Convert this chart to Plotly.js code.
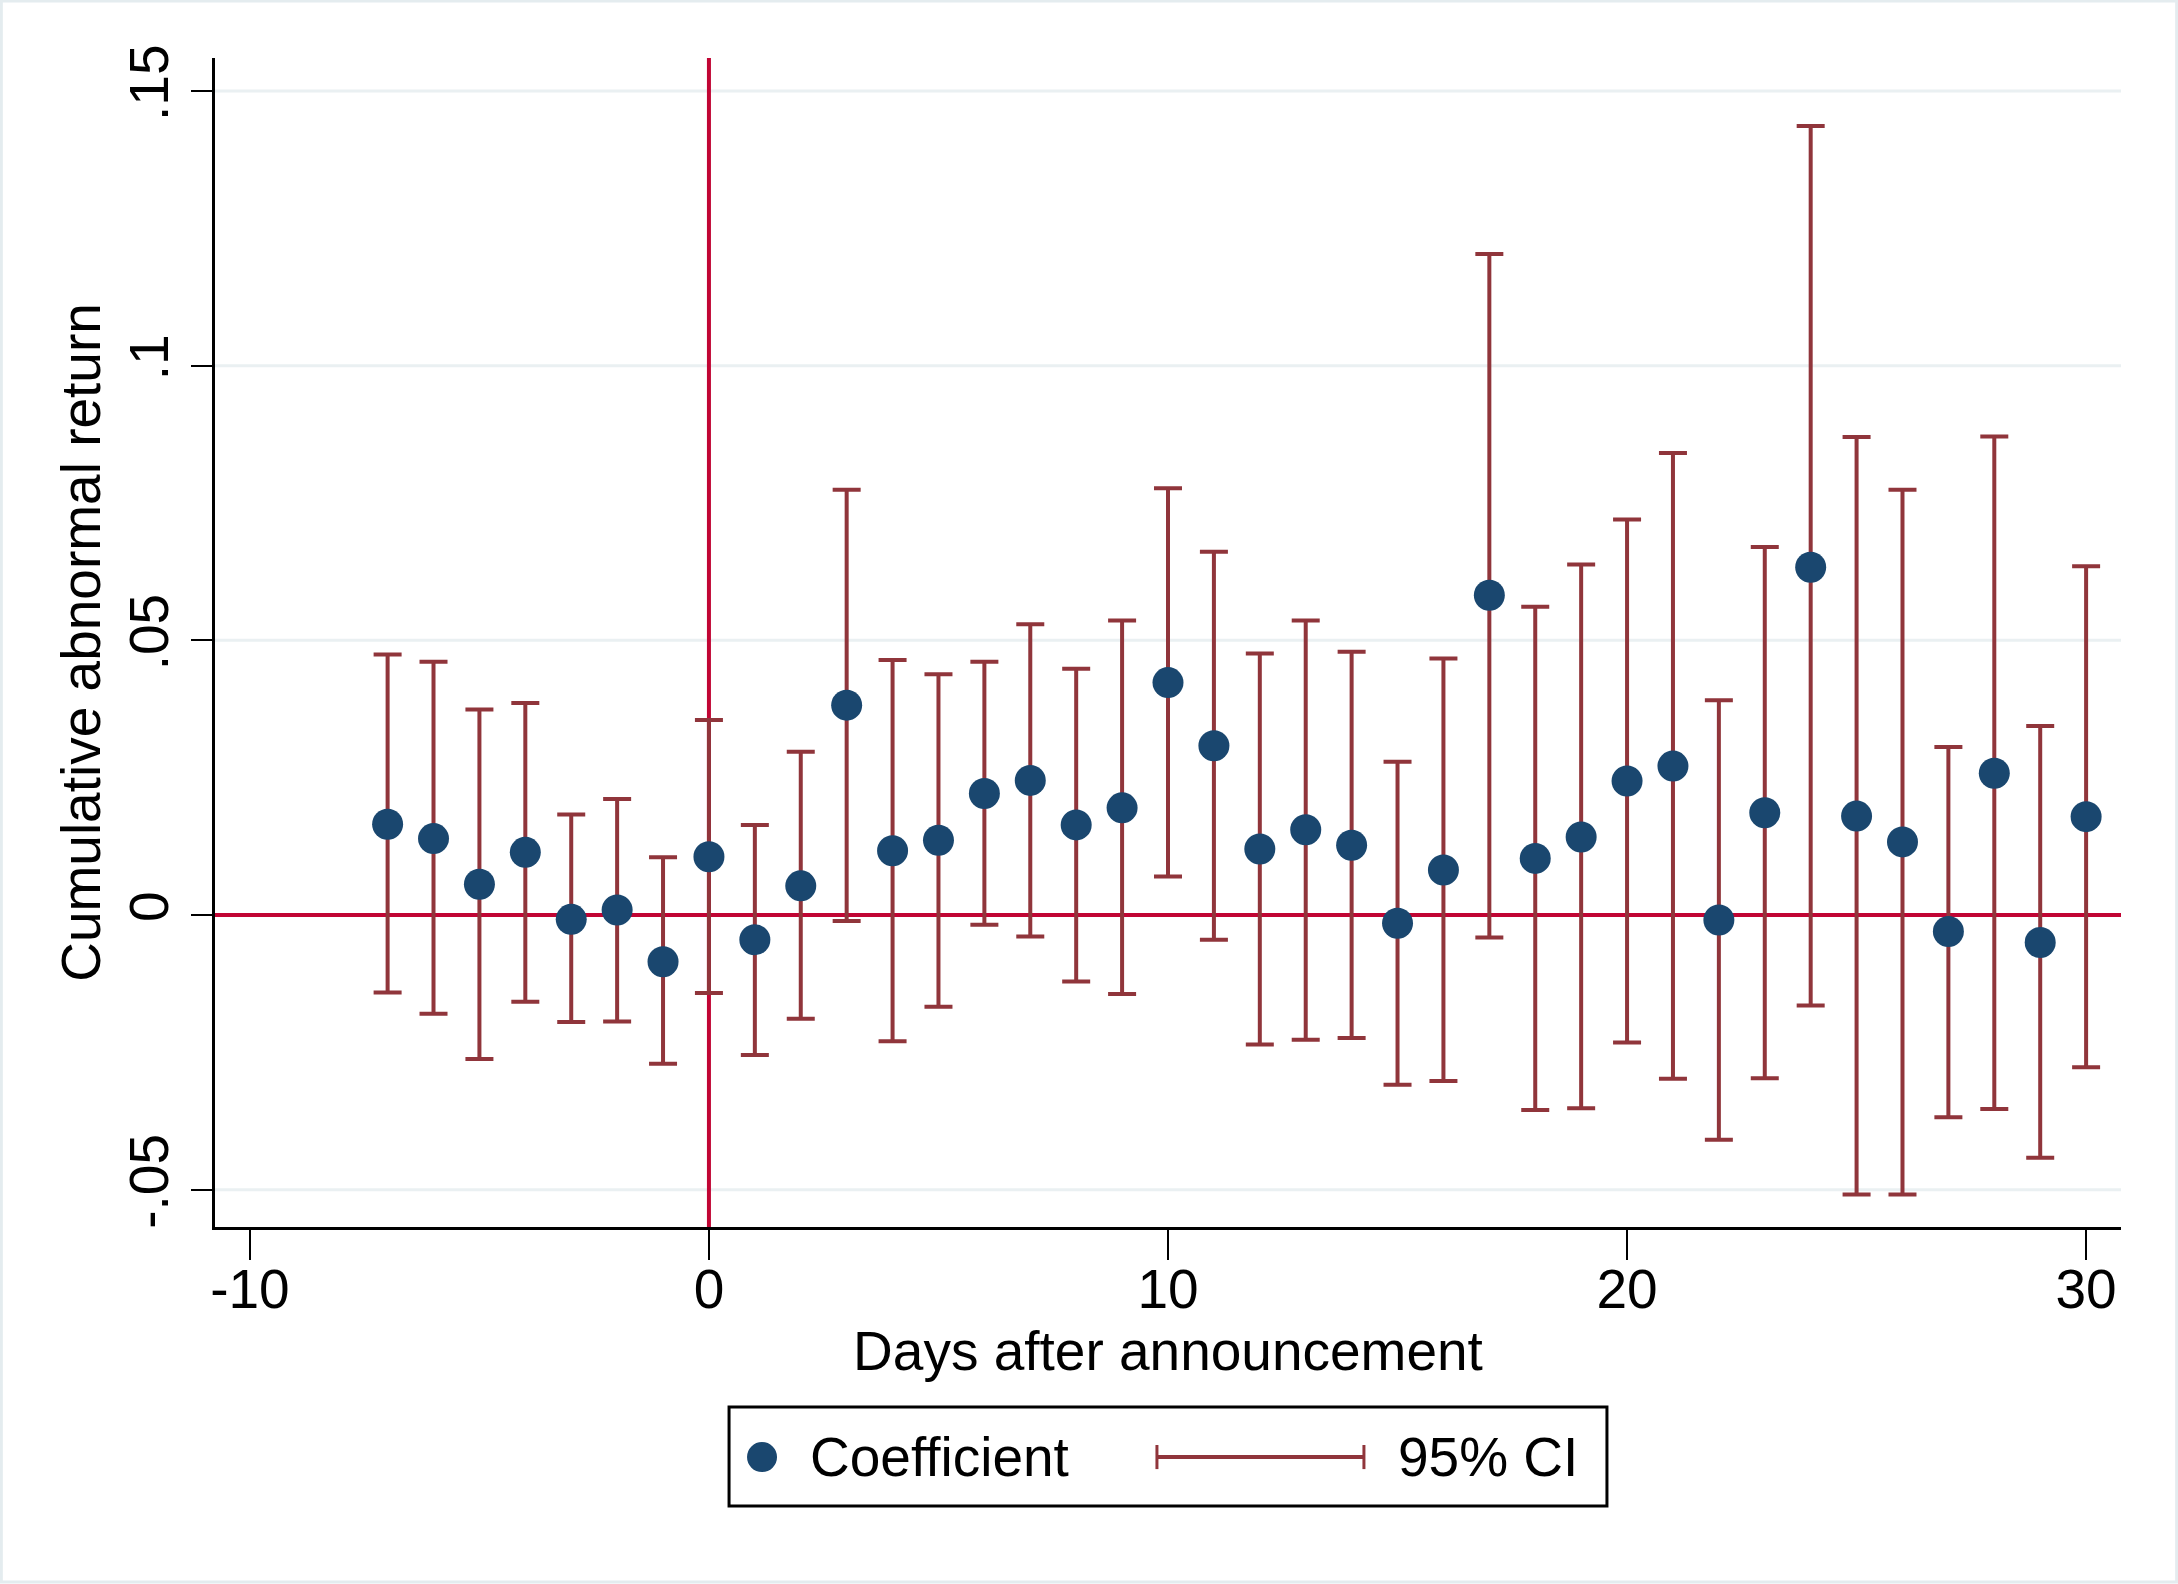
<!DOCTYPE html>
<html>
<head>
<meta charset="utf-8">
<script src="https://cdn.plot.ly/plotly-3.0.1.min.js"></script>
<style>
  html, body { margin: 0; padding: 0; background: #ffffff; }
  #chart { width: 2178px; height: 1584px; }
</style>
</head>
<body>
<div id="chart"></div>
<script>
// event-study estimates
var days = [-7, -6, -5, -4, -3, -2, -1, 0, 1, 2, 3, 4, 5, 6, 7, 8, 9, 10, 11, 12,
            13, 14, 15, 16, 17, 18, 19, 20, 21, 22, 23, 24, 25, 26, 27, 28, 29, 30];

var coef = [0.0165, 0.0139, 0.0056, 0.0114, -0.0008, 0.0009, -0.0085, 0.0106, -0.0045, 0.0053,
            0.0382, 0.0117, 0.0136, 0.0221, 0.0245, 0.0164, 0.0195, 0.0423, 0.0308, 0.0120,
            0.0155, 0.0127, -0.0015, 0.0082, 0.0582, 0.0103, 0.0142, 0.0244, 0.0271, -0.0009,
            0.0186, 0.0633, 0.0180, 0.0133, -0.0030, 0.0258, -0.0050, 0.0179];

var ciUpper = [0.0474, 0.0461, 0.0374, 0.0386, 0.0183, 0.0211, 0.0105, 0.0355, 0.0164, 0.0297,
               0.0774, 0.0464, 0.0438, 0.0461, 0.0529, 0.0448, 0.0536, 0.0777, 0.0661, 0.0476,
               0.0536, 0.0479, 0.0279, 0.0467, 0.1203, 0.0561, 0.0638, 0.0720, 0.0841, 0.0391,
               0.0670, 0.1436, 0.0870, 0.0774, 0.0306, 0.0871, 0.0344, 0.0635];

var ciLower = [-0.0141, -0.0180, -0.0262, -0.0158, -0.0195, -0.0194, -0.0271, -0.0142, -0.0255, -0.0189,
               -0.0011, -0.0230, -0.0167, -0.0018, -0.0039, -0.0121, -0.0144, 0.0070, -0.0045, -0.0236,
               -0.0227, -0.0224, -0.0309, -0.0302, -0.0041, -0.0355, -0.0352, -0.0232, -0.0298, -0.0409,
               -0.0297, -0.0165, -0.0509, -0.0509, -0.0368, -0.0353, -0.0442, -0.0277];

var yTickVals = [-0.05, 0, 0.05, 0.1, 0.15];
var yTickText = ['-.05', '0', '.05', '.1', '.15'];
var xTickVals = [-10, 0, 10, 20, 30];
var xTickText = ['-10', '0', '10', '20', '30'];

var navy = '#1a476f';
var maroon = '#90353b';
var cranberry = '#c10534';

var errPlus = ciUpper.map(function (u, i) { return u - coef[i]; });
var errMinus = ciLower.map(function (l, i) { return coef[i] - l; });

var ciTrace = {
    x: days,
    y: coef,
    mode: 'markers',
    marker: { size: 1, color: 'rgba(0,0,0,0)' },
    error_y: {
        type: 'data',
        symmetric: false,
        array: errPlus,
        arrayminus: errMinus,
        color: maroon,
        thickness: 4,
        width: 14
    },
    hoverinfo: 'skip',
    showlegend: false
};

var coefTrace = {
    x: days,
    y: coef,
    mode: 'markers',
    marker: { size: 31, color: navy },
    showlegend: false
};

var font = 'Liberation Sans, Arial, Helvetica, sans-serif';

// grid drawn as shapes so the red reference lines can sit on top of it
var shapes = yTickVals.map(function (v) {
    return { type: 'line', xref: 'paper', yref: 'y', x0: 0, x1: 1, y0: v, y1: v,
             line: { color: '#eaf0f2', width: 3 }, layer: 'below' };
});

shapes.push(
    { type: 'line', xref: 'x', yref: 'paper', x0: 0, x1: 0, y0: 0, y1: 1,
      line: { color: cranberry, width: 4 }, layer: 'below' },
    { type: 'line', xref: 'paper', yref: 'y', x0: 0, x1: 1, y0: 0, y1: 0,
      line: { color: cranberry, width: 4 }, layer: 'below' }
);

// legend drawn by hand so the CI key can show its end caps
var legY = -0.1968;
shapes.push(
    { type: 'rect', xref: 'paper', yref: 'paper', x0: 0.2697, x1: 0.7303, y0: -0.2387, y1: -0.154,
      line: { color: '#000000', width: 3 }, fillcolor: '#ffffff' },
    { type: 'circle', xref: 'paper', yref: 'paper', xsizemode: 'pixel', ysizemode: 'pixel',
      xanchor: 0.287, yanchor: legY, x0: -15, x1: 15, y0: -15, y1: 15,
      fillcolor: navy, line: { width: 0 } },
    { type: 'line', xref: 'paper', yref: 'paper', x0: 0.4942, x1: 0.6028, y0: legY, y1: legY,
      line: { color: maroon, width: 4 } },
    { type: 'line', xref: 'paper', yref: 'paper', x0: 0.4942, x1: 0.4942, y0: legY - 0.0103, y1: legY + 0.0103,
      line: { color: maroon, width: 3 } },
    { type: 'line', xref: 'paper', yref: 'paper', x0: 0.6028, x1: 0.6028, y0: legY - 0.0103, y1: legY + 0.0103,
      line: { color: maroon, width: 3 } },
    { type: 'rect', xref: 'paper', yref: 'paper', x0: -0.1121, x1: 1.0292, y0: -0.3036, y1: 1.0488,
      line: { color: '#e4ecef', width: 3 } }
);

var annotations = [
    { xref: 'paper', yref: 'paper', x: 0.3111, y: legY, xanchor: 'left', yanchor: 'middle',
      text: 'Coefficient', showarrow: false, font: { family: font, size: 55, color: '#000000' } },
    { xref: 'paper', yref: 'paper', x: 0.6196, y: legY, xanchor: 'left', yanchor: 'middle',
      text: '95% CI', showarrow: false, font: { family: font, size: 55, color: '#000000' } }
];

var layout = {
    width: 2178,
    height: 1584,
    margin: { l: 215, r: 57, t: 58, b: 357 },
    paper_bgcolor: '#ffffff',
    plot_bgcolor: '#ffffff',
    font: { family: font, size: 55, color: '#000000' },
    showlegend: false,
    xaxis: {
        range: [-10.76, 30.76],
        tickvals: xTickVals,
        ticktext: xTickText,
        ticks: 'outside',
        ticklen: 30,
        tickwidth: 2,
        tickcolor: '#000000',
        showgrid: false,
        zeroline: false,
        showline: true,
        linecolor: '#000000',
        linewidth: 3,
        ticklabelstandoff: -18,
        tickfont: { family: font, size: 55 },
        title: { text: 'Days after announcement', font: { family: font, size: 55 }, standoff: 12 }
    },
    yaxis: {
        range: [-0.0568, 0.156],
        tickvals: yTickVals,
        ticktext: yTickText,
        tickangle: -90,
        ticks: 'outside',
        ticklen: 21,
        tickwidth: 2,
        tickcolor: '#000000',
        showgrid: false,
        zeroline: false,
        showline: true,
        linecolor: '#000000',
        linewidth: 3,
        ticklabelstandoff: 1,
        tickfont: { family: font, size: 55 },
        title: { text: 'Cumulative abnormal return', font: { family: font, size: 55 }, standoff: 0 }
    },
    shapes: shapes,
    annotations: annotations
};

Plotly.newPlot('chart', [ciTrace, coefTrace], layout, { displayModeBar: false, staticPlot: true });
</script>
</body>
</html>
